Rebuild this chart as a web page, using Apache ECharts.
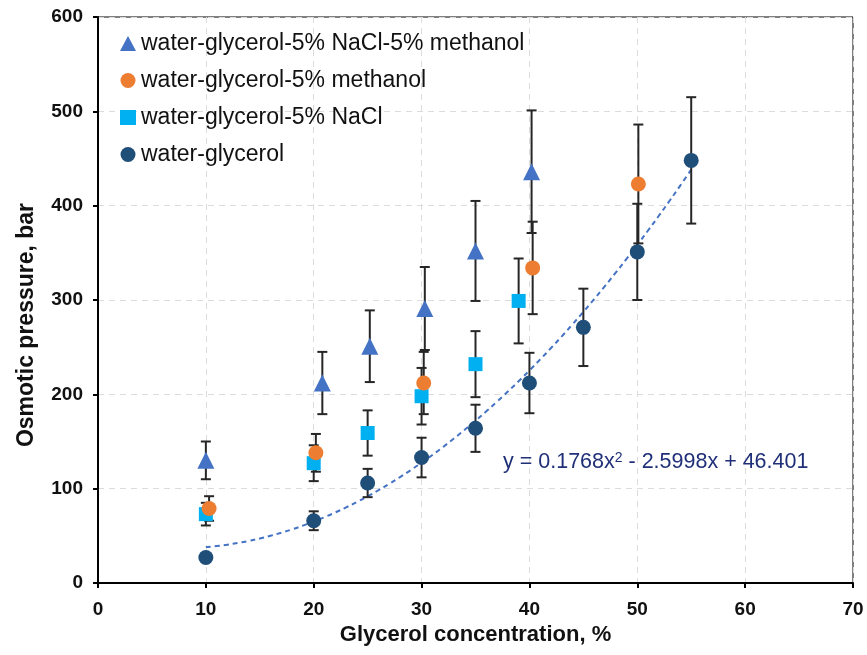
<!DOCTYPE html>
<html>
<head>
<meta charset="utf-8">
<script src="https://cdn.jsdelivr.net/npm/echarts@6/dist/echarts.min.js"></script>
<style>html,body{margin:0;padding:0;background:#fff;}#c{width:867px;height:655px;}</style>
</head>
<body>
<div id="c"></div>
<script>
// Data: [x, y, errorHalfWidth]
var seriesNames = ['water-glycerol-5% NaCl-5% methanol','water-glycerol-5% methanol','water-glycerol-5% NaCl','water-glycerol'];
var triX = [10, 20.8, 25.2, 30.3, 35, 40.2];
var triY = [130, 212, 251, 291, 352, 436];
var triE = [20, 33, 38, 44, 53, 65];
var oraX = [10.3, 20.2, 30.2, 40.3, 50.1];
var oraY = [79, 138, 212, 334, 423];
var oraE = [13, 20, 33, 49, 63];
var sqX = [10, 20, 25, 30, 35, 39];
var sqY = [73, 127, 159, 198, 232, 299];
var sqE = [12, 19, 24, 30, 35, 45];
var dkX = [10, 20, 25, 30, 35, 40, 45, 50, 55];
var dkY = [27, 66, 106, 133, 164, 212, 271, 351, 448];
var dkE = [0, 10, 15, 21, 25, 32, 41, 51, 67];
// Polynomial trendline as printed on the chart
var trendA = 0.1768, trendB = -2.5998, trendC = 46.401;
var trendXs = [10,11,12,13,14,15,16,17,18,19,20,21,22,23,24,25,26,27,28,29,30,31,32,33,34,35,36,37,38,39,40,41,42,43,44,45,46,47,48,49,50,51,52,53,54,55];
var xTicks = [0,10,20,30,40,50,60,70];
var yTicks = [0,100,200,300,400,500,600];

function pts(xs, ys){ return xs.map(function(x,i){return [x, ys[i]];}); }
function errs(xs, ys, es){ return xs.map(function(x,i){return [x, ys[i], es[i]];}); }
var trendData = trendXs.map(function(x){ return [x, trendA*x*x + trendB*x + trendC]; });

function errSeries(data){
  return {
    type: 'custom', z: 2, silent: true,
    data: data,
    encode: {x: 0, y: 1},
    renderItem: function(params, api){
      var x = api.value(0), y = api.value(1), e = api.value(2);
      if (!e) return null;
      var top = api.coord([x, y + e]), bot = api.coord([x, y - e]);
      var cw = 5;
      var st = {stroke: '#262626', lineWidth: 2};
      return {type: 'group', children: [
        {type: 'line', shape: {x1: top[0], y1: top[1], x2: bot[0], y2: bot[1]}, style: st},
        {type: 'line', shape: {x1: top[0]-cw, y1: top[1], x2: top[0]+cw, y2: top[1]}, style: st},
        {type: 'line', shape: {x1: bot[0]-cw, y1: bot[1], x2: bot[0]+cw, y2: bot[1]}, style: st}
      ]};
    }
  };
}

var font = 'Liberation Sans, Arial, sans-serif';
var chart = echarts.init(document.getElementById('c'));
chart.setOption({
  animation: false,
  backgroundColor: '#fff',
  grid: {left: 98, top: 17, right: 14, bottom: 72, show: true, borderColor: '#000', borderWidth: 1},
  legend: {
    left: 115, top: 26, orient: 'vertical', itemGap: 12, itemWidth: 16, itemHeight: 15,
    data: seriesNames,
    textStyle: {fontFamily: font, fontSize: 23, lineHeight: 25, color: '#111'}
  },
  xAxis: {
    type: 'value', min: 0, max: 70, interval: 10,
    name: 'Glycerol concentration, %', nameLocation: 'middle', nameGap: 38,
    nameTextStyle: {fontFamily: font, fontSize: 22, fontWeight: 'bold', color: '#111'},
    axisLine: {onZero: false, lineStyle: {color: '#000', width: 2}},
    axisTick: {show: true, length: 5, lineStyle: {color: '#000', width: 2}},
    axisLabel: {fontFamily: font, fontSize: 19, fontWeight: 'bold', color: '#111', margin: 17},
    splitLine: {show: true, lineStyle: {color: '#dcdcdc', type: [6, 5], width: 1}}
  },
  yAxis: {
    type: 'value', min: 0, max: 600, interval: 100,
    name: 'Osmotic pressure, bar', nameLocation: 'middle', nameGap: 60,
    nameTextStyle: {fontFamily: font, fontSize: 23, fontWeight: 'bold', color: '#111', padding: [0, 50, 0, 0]},
    axisLine: {onZero: false, lineStyle: {color: '#000', width: 2}},
    axisTick: {show: true, length: 5, lineStyle: {color: '#000', width: 2}},
    axisLabel: {fontFamily: font, fontSize: 19, fontWeight: 'bold', color: '#111', margin: 15},
    splitLine: {show: true, lineStyle: {color: '#dcdcdc', type: [6, 5], width: 1}}
  },
  graphic: [{
    type: 'text', left: 503, top: 451, z: 10,
    style: {
      text: '{a|y = 0.1768x}{s|2}{a| - 2.5998x + 46.401}',
      rich: {
        a: {fontFamily: font, fontSize: 21.5, fill: '#1f2f78', color: '#1f2f78'},
        s: {fontFamily: font, fontSize: 14, fill: '#1f2f78', color: '#1f2f78', verticalAlign: 'top', padding: [0,0,9,0]}
      }
    }
  }],
  series: [
    {type: 'line', data: trendData, smooth: true, showSymbol: false, symbol: 'none', z: 1, silent: true,
     lineStyle: {color: '#4472C4', width: 2, type: [5, 4]}},
    errSeries(errs(dkX, dkY, dkE)),
    errSeries(errs(sqX, sqY, sqE)),
    errSeries(errs(oraX, oraY, oraE)),
    errSeries(errs(triX, triY, triE)),
    {name: seriesNames[3], type: 'scatter', data: pts(dkX, dkY), symbol: 'circle', symbolSize: 15, z: 3,
     itemStyle: {color: '#1F4E79', opacity: 1}},
    {name: seriesNames[2], type: 'scatter', data: pts(sqX, sqY), symbol: 'rect', symbolSize: 14, z: 3,
     itemStyle: {color: '#00B0F0', opacity: 1}},
    {name: seriesNames[1], type: 'scatter', data: pts(oraX, oraY), symbol: 'circle', symbolSize: 15, z: 3,
     itemStyle: {color: '#ED7D31', opacity: 1}},
    {name: seriesNames[0], type: 'scatter', data: pts(triX, triY), symbol: 'triangle', symbolSize: 17, z: 3,
     itemStyle: {color: '#4472C4', opacity: 1}}
  ]
});
</script>
</body>
</html>
